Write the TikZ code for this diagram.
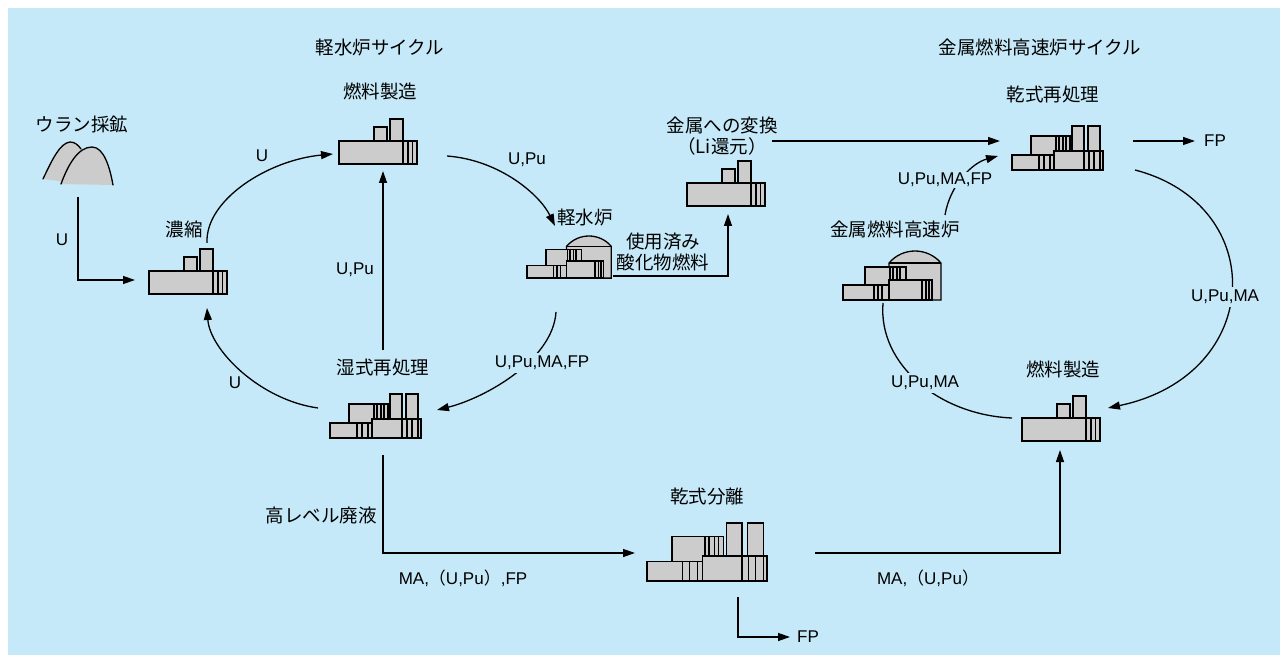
\documentclass[tikz,border=0pt]{standalone}
\usepackage{fontspec}
\setmainfont{Liberation Sans}
\newfontfamily\jp{Noto Sans CJK JP}
\usetikzlibrary{arrows.meta}
\definecolor{bg}{HTML}{C5E9F8}
\definecolor{fac}{HTML}{CCCCCC}

\tikzset{
  box/.style={fill=fac,draw=black,line width=1.3pt},
  stripe/.style={draw=black,line width=1.3pt},
  % small fabrication plant: box origin at its upper-left corner
  plant/.pic={
    \path[box] (35,-14) rectangle (48,0);
    \path[box] (51,-22) rectangle (64,0);
    \path[box] (0,0) rectangle (78,23);
    \foreach \s in {64,69,73.5} \draw[stripe] (\s,0) -- (\s,23);
  },
  % reprocessing / separation facility
  refinery/.pic={
    \path[box] (19,10) rectangle (58,29);
    \foreach \s in {44,47,51,54} \draw[stripe] (\s,10) -- (\s,25);
    \path[box] (60,0) rectangle (72,25);
    \path[box] (76,0) rectangle (88,25);
    \path[box] (42,25) rectangle (91,44);
    \foreach \s in {72,77,82,88} \draw[stripe] (\s,25) -- (\s,44);
    \path[box] (0,29) rectangle (42,44);
    \foreach \s in {27,32,38} \draw[stripe] (\s,29) -- (\s,44);
  },
  % reactor building with dome
  reactor/.pic={
    \path[box] (46,12) .. controls (59.7,-4) and (84.3,-4) .. (98,12) -- (98,49) -- (46,49) -- cycle;
    \draw[stripe] (46,12) -- (98,12);
    \path[box] (22,16) rectangle (63,49);
    \foreach \s in {47,50,54,57} \draw[stripe] (\s,16) -- (\s,29);
    \path[box] (46,29) rectangle (89,49);
    \foreach \s in {79,83,86} \draw[stripe] (\s,29) -- (\s,49);
    \path[box] (0,34) rectangle (46,49);
    \foreach \s in {31,35,39} \draw[stripe] (\s,34) -- (\s,49);
  },
}

\begin{document}
\begin{tikzpicture}[x=1pt,y=-1pt,
  flow/.style={-{Triangle[length=12pt,width=8pt]},line width=1.3pt},
  link/.style={line width=1.3pt},
  lat/.style={font=\fontsize{17}{19}\selectfont,inner sep=1pt},
  jlab/.style={font=\jp\fontsize{18.5}{21.5}\selectfont,inner sep=1pt,align=center},
  jtitle/.style={font=\jp\fontsize{18.5}{21.5}\selectfont,inner sep=1pt},
  onpath/.style={fill=bg,inner sep=3pt},
]
\useasboundingbox (0,0) rectangle (1288,663);
\fill[white] (0,0) rectangle (1288,663);
\fill[bg] (8,8) rectangle (1280,655);

% titles
\node[jtitle] (t-lwr) at (380,47) {軽水炉サイクル};
\node[jtitle] (t-fbr) at (1040,47) {金属燃料高速炉サイクル};

% uranium mine
\node[jlab] (l-mine) at (82,124) {ウラン採鉱};
\fill[fac] (43,179) .. controls (52,160) and (60,143) .. (70,142)
  .. controls (76,142) and (80,146) .. (84,150) -- (84,184) -- cycle;
\fill[fac] (61,184) .. controls (68,165) and (78,147) .. (92,147)
  .. controls (104,147) and (110,168) .. (113,185) -- cycle;
\draw[link,line cap=round] (43,179) .. controls (52,160) and (60,143) .. (70,142)
  .. controls (75,142) and (78,145) .. (81,149);
\draw[link,line cap=round] (61,184) .. controls (68,165) and (78,147) .. (92,147)
  .. controls (104,147) and (110,168) .. (113,185);

% light-water reactor cycle facilities
\pic at (149,271) {plant};
\node[jlab] (l-enr) at (184,229) {濃縮};
\pic at (339,141) {plant};
\node[jlab] (l-fab1) at (380,91) {燃料製造};
\pic[scale=0.86] at (527,236) {reactor};
\node[jlab] (l-lwr) at (585,217) {軽水炉};
\pic at (330,394) {refinery};
\node[jlab] (l-wet) at (383,367) {湿式再処理};
\pic at (687,183) {plant};
\node[jlab] (l-li) at (722,136) {金属への変換\\（Li還元）};
\node[jlab] (l-spent) at (663,252) {使用済み\\酸化物燃料};

% metal fuel FBR cycle facilities
\pic at (1012,126) {refinery};
\node[jlab] (l-dry) at (1053,94) {乾式再処理};
\pic at (843,251) {reactor};
\node[jlab] (l-fbr) at (895,229) {金属燃料高速炉};
\pic at (1022,418) {plant};
\node[jlab] (l-fab2) at (1063,369) {燃料製造};
\pic[scale=1.32] at (647,523) {refinery};
\node[jlab] (l-sep) at (707,497) {乾式分離};

% connector end points
\coordinate (mine-out) at (78,197);
\coordinate (enr-in) at (135,280);
\coordinate (enr-top) at (207,243);
\coordinate (enr-bot) at (207,308);
\coordinate (fab1-w) at (333,154);
\coordinate (fab1-e) at (447,156);
\coordinate (fab1-s) at (383,171);
\coordinate (lwr-n) at (555,226);
\coordinate (lwr-s) at (556,312);
\coordinate (lwr-e) at (613,276);
\coordinate (wet-e) at (437,410);
\coordinate (wet-w) at (318,408);
\coordinate (wet-n) at (383,350);
\coordinate (wet-s) at (383,455);
\coordinate (li-s) at (728,214);
\coordinate (li-e) at (772,141);
\coordinate (dry-w) at (1000,141);
\coordinate (dry-e) at (1133,141);
\coordinate (fp1) at (1195,141);
\coordinate (dry-se) at (1135,170);
\coordinate (dry-sw) at (998,156);
\coordinate (fbr-ne) at (945,215);
\coordinate (fbr-s) at (883,303);
\coordinate (fab2-ne) at (1108,408);
\coordinate (fab2-w) at (1012,418);
\coordinate (fab2-s) at (1060,450);
\coordinate (sep-w) at (635,553);
\coordinate (sep-e) at (815,553);
\coordinate (sep-s) at (738,597);
\coordinate (fp2) at (790,637);

% light-water reactor cycle flows
\draw[flow] (mine-out) |- (enr-in);
\node[lat] (u1) at (62,240) {U};
\draw[flow] (enr-top) .. controls (205,200) and (268,160) .. (fab1-w);
\node[lat] (u2) at (262,156) {U};
\draw[flow] (fab1-e) .. controls (500,160) and (540,195) .. (lwr-n);
\node[lat] (upu1) at (527,160) {U,Pu};
\draw[flow] (lwr-s) .. controls (553,360) and (485,398) .. (wet-e);
\node[lat,onpath] (upumafp1) at (542,363) {U,Pu,MA,FP};
\draw[flow] (wet-w) .. controls (260,400) and (210,350) .. (enr-bot);
\node[lat] (u3) at (235,383) {U};
\draw[flow] (wet-n) -- (fab1-s);
\node[lat] (upu2) at (355,270) {U,Pu};
\draw[flow] (lwr-e) -| (li-s);
\draw[flow] (li-e) -- (dry-w);

% metal fuel FBR cycle flows
\draw[flow] (dry-e) -- (fp1);
\node[lat,anchor=west] (fp-top) at (1203,141) {FP};
\draw[flow] (dry-se) .. controls (1270,205) and (1265,375) .. (fab2-ne);
\node[lat,onpath] (upuma1) at (1225,297) {U,Pu,MA};
\draw[link] (fbr-s) .. controls (878,365) and (940,415) .. (fab2-w);
\node[lat,onpath] (upuma2) at (925,383) {U,Pu,MA};
\draw[flow] (fbr-ne) .. controls (950,185) and (972,163) .. (dry-sw);
\node[lat,onpath,inner sep=1pt] (upumafp2) at (945,180) {U,Pu,MA,FP};

% high-level waste and dry separation
\draw[flow] (wet-s) |- (sep-w);
\node[jlab] (l-hlw) at (321,515) {高レベル廃液};
\node[lat] (ma1) at (463,578) {MA,{\jp（}U,Pu{\jp）},FP};
\draw[flow] (sep-e) -| (fab2-s);
\node[lat] (ma2) at (928,578) {MA,{\jp（}U,Pu{\jp）}};
\draw[flow] (sep-s) |- (fp2);
\node[lat,anchor=west] (fp-bot) at (796,637) {FP};
\end{tikzpicture}
\end{document}
